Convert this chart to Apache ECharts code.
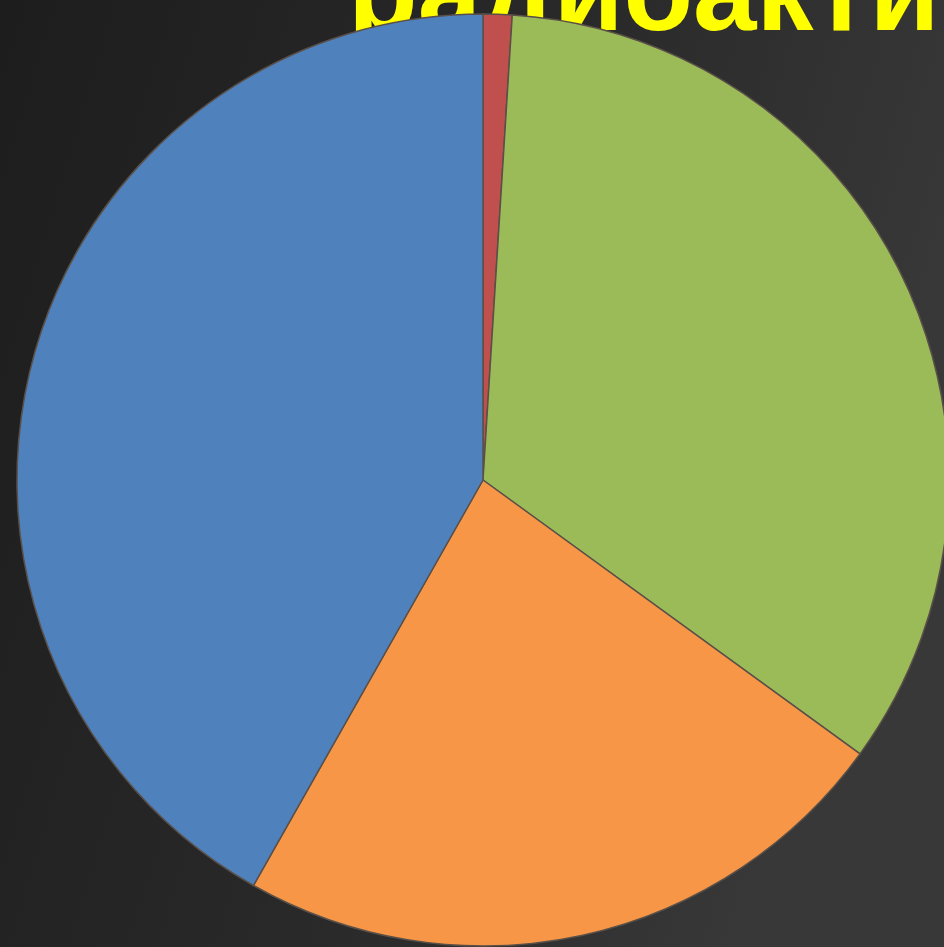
<!DOCTYPE html>
<html>
<head>
<meta charset="utf-8">
<script src="https://cdn.jsdelivr.net/npm/echarts@6/dist/echarts.min.js"></script>
<style>
  html, body { margin: 0; padding: 0; background: #222; }
  #chart { width: 944px; height: 947px; }
</style>
</head>
<body>
<div id="chart"></div>
<script>
const categories = ['Красный', 'Зелёный', 'Оранжевый', 'Синий'];
const values = [1.0, 34.0, 23.2, 41.8];
const colors = ['#C0504D', '#9BBB59', '#F79646', '#4F81BD'];
const titleText = 'радиоакти';

const chart = echarts.init(document.getElementById('chart'), undefined, { renderer: 'canvas' });

chart.setOption({
  backgroundColor: {
    type: 'linear', x: 0, y: 0, x2: 1, y2: 0.3,
    colorStops: [
      { offset: 0, color: '#1d1d1d' },
      { offset: 0.6, color: '#2a2a2a' },
      { offset: 1, color: '#383838' }
    ]
  },
  graphic: [{
    type: 'text',
    left: 348,
    top: -58,
    z: -1,
    style: {
      text: titleText,
      fill: '#FFFF00',
      font: 'bold 114px "Liberation Sans", Arial, sans-serif'
    }
  }],
  series: [{
    type: 'pie',
    center: [483, 480],
    radius: 466,
    startAngle: 90,
    clockwise: true,
    silent: true,
    label: { show: false },
    labelLine: { show: false },
    itemStyle: { borderColor: '#5a5048', borderWidth: 1.5 },
    data: categories.map((name, i) => ({
      name,
      value: values[i],
      itemStyle: { color: colors[i] }
    }))
  }]
});
</script>
</body>
</html>
